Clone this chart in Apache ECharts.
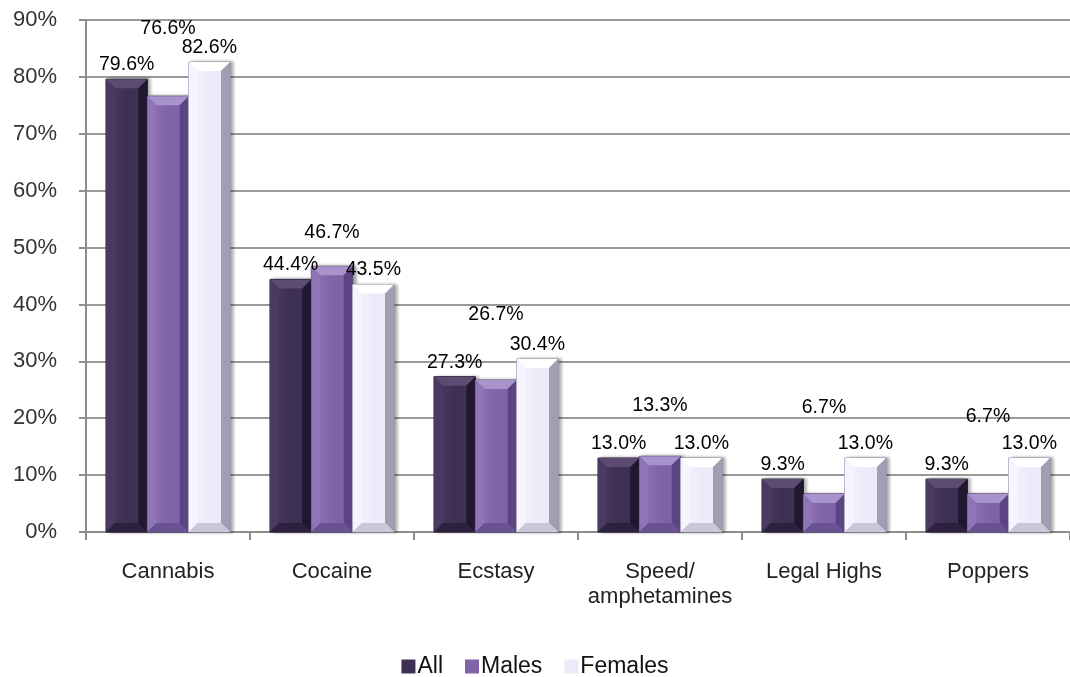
<!DOCTYPE html>
<html>
<head>
<meta charset="utf-8">
<script src="https://cdn.jsdelivr.net/npm/echarts@6/dist/echarts.min.js"></script>
<style>
  html, body { margin: 0; padding: 0; background: #fff; }
  #chart { width: 1070px; height: 677px; }
</style>
</head>
<body>
<div id="chart"></div>
<script>
// Drug use by substance, split by respondent group
const categories = ['Cannabis', 'Cocaine', 'Ecstasy', 'Speed/\namphetamines', 'Legal Highs', 'Poppers'];
const seriesNames = ['All', 'Males', 'Females'];
const allValues = [79.6, 44.4, 27.3, 13.0, 9.3, 9.3];
const maleValues = [76.6, 46.7, 26.7, 13.3, 6.7, 6.7];
const femaleValues = [82.6, 43.5, 30.4, 13.0, 13.0, 13.0];
const yTicks = [0, 10, 20, 30, 40, 50, 60, 70, 80, 90];

// Extra lift (px) for value labels so they do not collide with neighbours
const labelLift = [
  [0, 0, 0, 0, 0, 0],
  [53, 19, 51, 36, 72, 63],
  [0, 0, 0, 0, 0, 0]
];

const FONT = '"Liberation Sans", Arial, sans-serif';

// Bevelled bar palettes: face, top, left, right, bottom
const palettes = [
  { face: '#3e3052', top: '#5d4b74', left: '#4a3a61', right: '#211830', bottom: '#2c2240', edge: '#1d1528' },
  { face: '#8064a8', top: '#a993cc', left: '#8f74b8', right: '#5a4482', bottom: '#6a5292', edge: '#4b3870' },
  { face: '#ebeaf8', top: '#ffffff', left: '#f6f5ff', right: '#a19eb3', bottom: '#c9c7d8', edge: '#8e8ba0' }
];

function bevelRenderer(si) {
  const pal = palettes[si];
  return function (params, api) {
    const idx = api.value(0);
    const v = api.value(1);
    const base = api.coord([idx, 0]);
    const top = api.coord([idx, v]);
    const band = api.size([1, 0])[0];
    const bw = band * 0.252;
    const x = base[0] - 1.5 * bw + si * bw;
    const y = top[1];
    const h = base[1] - top[1];
    const b = Math.min(9, h / 2, bw / 2);
    const lift = labelLift[si][params.dataIndex] || 0;
    return {
      type: 'group',
      children: [
        {
          type: 'rect',
          shape: { x: x, y: y, width: bw, height: h },
          style: {
            fill: {
              type: 'linear', x: 0, y: 0, x2: 1, y2: 0,
              colorStops: [
                { offset: 0, color: pal.left },
                { offset: 0.5, color: pal.face },
                { offset: 1, color: pal.face }
              ]
            },
            stroke: pal.edge, lineWidth: 1,
            shadowColor: 'rgba(0,0,0,0.35)', shadowBlur: 3, shadowOffsetX: 3, shadowOffsetY: 0
          },
          textContent: {
            style: { text: v.toFixed(1) + '%', fill: '#000', font: '19.5px ' + FONT }
          },
          textConfig: { position: 'top', distance: 4 + lift }
        },
        {
          type: 'polygon',
          shape: { points: [[x, y], [x + bw, y], [x + bw - b, y + b], [x + b, y + b]] },
          style: { fill: pal.top }
        },
        {
          type: 'polygon',
          shape: { points: [[x, y], [x + b, y + b], [x + b, y + h - b], [x, y + h]] },
          style: { fill: pal.left }
        },
        {
          type: 'polygon',
          shape: { points: [[x + bw, y], [x + bw, y + h], [x + bw - b, y + h - b], [x + bw - b, y + b]] },
          style: { fill: pal.right }
        },
        {
          type: 'polygon',
          shape: { points: [[x, y + h], [x + b, y + h - b], [x + bw - b, y + h - b], [x + bw, y + h]] },
          style: { fill: pal.bottom }
        }
      ]
    };
  };
}

const valueSets = [allValues, maleValues, femaleValues];

const chart = echarts.init(document.getElementById('chart'), null, { renderer: 'canvas' });
chart.setOption({
  animation: false,
  backgroundColor: '#fff',
  grid: { left: 86, top: 20, width: 990, height: 512, containLabel: false },
  legend: {
    top: 650,
    left: 'center',
    itemWidth: 14,
    itemHeight: 14,
    itemGap: 22,
    icon: 'rect',
    textStyle: { fontFamily: FONT, fontSize: 23, color: '#111', padding: [0, 0, 0, -3] },
    data: seriesNames
  },
  xAxis: {
    type: 'category',
    data: categories,
    axisLine: { lineStyle: { color: '#8c8c8c', width: 2 } },
    axisTick: { show: true, interval: 0, length: 8, lineStyle: { color: '#8c8c8c', width: 2 } },
    axisLabel: { interval: 0, fontFamily: FONT, fontSize: 22, color: '#222', margin: 27, lineHeight: 25 }
  },
  yAxis: {
    type: 'value',
    min: yTicks[0],
    max: yTicks[yTicks.length - 1],
    interval: 10,
    axisLine: { show: true, lineStyle: { color: '#8c8c8c', width: 2 } },
    axisTick: { show: true, length: 7, lineStyle: { color: '#8c8c8c', width: 2 } },
    axisLabel: { fontFamily: FONT, fontSize: 22, color: '#333', margin: 29, formatter: '{value}%' },
    splitLine: { lineStyle: { color: '#9a9a9a', width: 2 } }
  },
  series: seriesNames.map(function (name, si) {
    return {
      name: name,
      type: 'custom',
      renderItem: bevelRenderer(si),
      itemStyle: { color: palettes[si].face },
      encode: { x: 0, y: 1 },
      data: valueSets[si].map(function (v, i) { return [i, v]; }),
      z: 3
    };
  })
});
</script>
</body>
</html>
